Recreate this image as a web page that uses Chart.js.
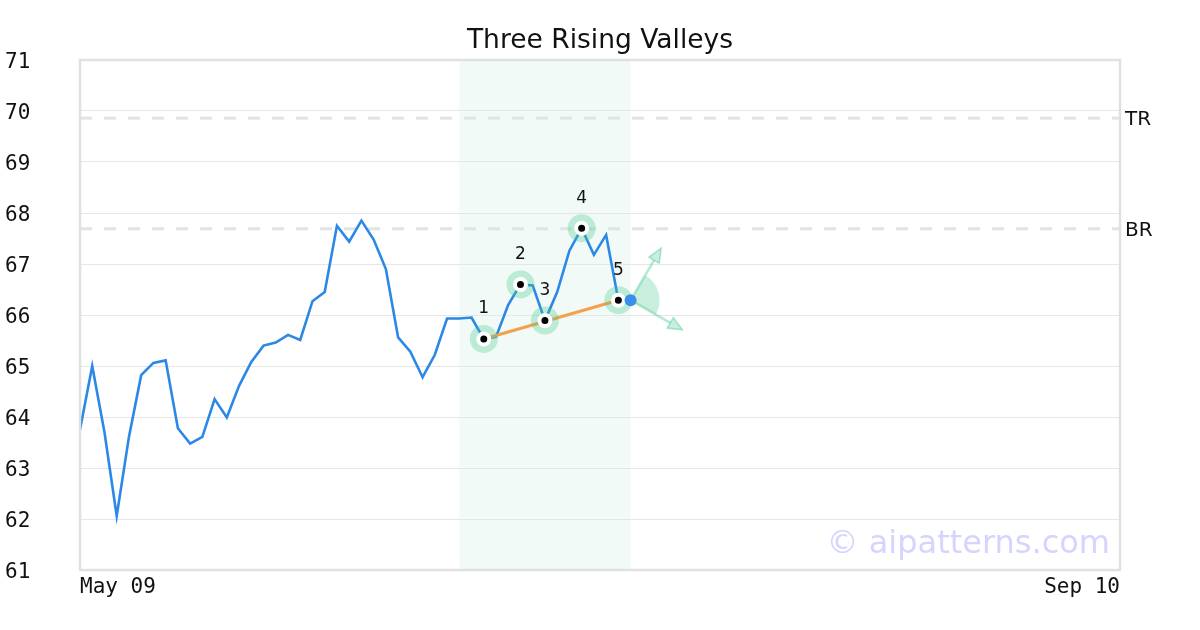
<!DOCTYPE html>
<html>
<head>
<meta charset="utf-8">
<script src="https://cdn.jsdelivr.net/npm/chart.js@4.4.1/dist/chart.umd.min.js"></script>
<style>
  html, body { margin: 0; background: #fff; }
  #wrap { width: 1200px; height: 630px; }
</style>
</head>
<body>
<div id="wrap"><canvas id="chart"></canvas></div>
<script>
// ---- data ----
const TITLE = 'Three Rising Valleys';
const X_TICK_LABELS = ['May 09', 'Sep 10'];
const X_LAST = 85;                       // last session slot on the axis

const closes = [
  63.75, 65.00, 63.70, 62.06, 63.61, 64.82, 65.06, 65.11, 63.78, 63.48,
  63.61, 64.35, 63.99, 64.61, 65.08, 65.40, 65.46, 65.61, 65.51, 66.27,
  66.45, 67.75, 67.44, 67.85, 67.48, 66.90, 65.56, 65.28, 64.78, 65.22,
  65.93, 65.93, 65.95, 65.53, 65.57, 66.20, 66.60, 66.58, 65.89, 66.45,
  67.26, 67.70, 67.18, 67.57, 66.29, 66.29,
];

const pivotIdx   = [33, 36, 38, 41, 44];
const pivotVals  = [65.53, 66.60, 65.89, 67.70, 66.29];
const pivotNames = ['1', '2', '3', '4', '5'];

const trendIdx  = [33, 44];
const trendVals = [65.53, 66.29];

const levelVals  = [69.86, 67.69];
const levelNames = ['TR', 'BR'];

const zoneIdx = [31, 45];

const lastIdx = [45];
const lastVal = [66.29];

// projection arrows: [x index, value] of each tip
const arrowUp   = [47.5, 67.31];
const arrowDown = [49.24, 65.71];

// ---- styles ----
const MONO  = '"DejaVu Sans Mono", monospace';
const SANS  = '"DejaVu Sans", sans-serif';
const GREEN = '72,199,142';

const toXY = (xs, ys) => xs.map((x, i) => ({ x, y: ys[i] }));

const zonePlugin = {
  id: 'zone',
  beforeDraw(chart) {
    const { ctx, chartArea: a, scales: { x } } = chart;
    const x0 = x.getPixelForValue(zoneIdx[0]);
    const x1 = x.getPixelForValue(zoneIdx[1]);
    ctx.save();
    ctx.fillStyle = 'rgba(72,187,140,0.08)';
    ctx.fillRect(x0, a.top, x1 - x0, a.bottom - a.top);

    // title, centred on the whole canvas
    ctx.fillStyle = '#111';
    ctx.font = '26.5px ' + SANS;
    ctx.textAlign = 'center';
    ctx.textBaseline = 'middle';
    ctx.fillText(TITLE, chart.width / 2, 41);
    ctx.restore();
  },
};

const levelsPlugin = {
  id: 'levels',
  beforeDatasetsDraw(chart) {
    const { ctx, chartArea: a, scales: { x, y } } = chart;
    ctx.save();
    ctx.strokeStyle = '#e3e3e3';
    ctx.lineWidth = 3;
    ctx.setLineDash([12, 12]);
    levelVals.forEach((v, i) => {
      const py = y.getPixelForValue(v);
      ctx.beginPath();
      ctx.moveTo(a.left, py);
      ctx.lineTo(a.right, py);
      ctx.stroke();
      ctx.fillStyle = '#111';
      ctx.font = '20px ' + SANS;
      ctx.textAlign = 'left';
      ctx.textBaseline = 'middle';
      ctx.fillText(levelNames[i], a.right + 5, py + 2);
    });
    ctx.setLineDash([]);

    // projection wedge + arrows from the last close
    const cx = x.getPixelForValue(lastIdx[0]);
    const cy = y.getPixelForValue(lastVal[0]);
    const tips = [arrowUp, arrowDown].map(t => [x.getPixelForValue(t[0]), y.getPixelForValue(t[1])]);
    const angs = tips.map(t => Math.atan2(t[1] - cy, t[0] - cx));

    ctx.fillStyle = `rgba(${GREEN},0.3)`;
    ctx.beginPath();
    ctx.moveTo(cx, cy);
    ctx.arc(cx, cy, 29, angs[0], angs[1]);
    ctx.closePath();
    ctx.fill();

    tips.forEach((t, i) => {
      const ux = Math.cos(angs[i]), uy = Math.sin(angs[i]);
      const bx = t[0] - ux * 14, by = t[1] - uy * 14;
      ctx.strokeStyle = `rgba(${GREEN},0.4)`;
      ctx.lineWidth = 2.5;
      ctx.beginPath();
      ctx.moveTo(cx, cy);
      ctx.lineTo(bx, by);
      ctx.stroke();
      ctx.beginPath();
      ctx.moveTo(t[0], t[1]);
      ctx.lineTo(bx - uy * 6, by + ux * 6);
      ctx.lineTo(bx + uy * 6, by - ux * 6);
      ctx.closePath();
      ctx.fillStyle = `rgba(${GREEN},0.3)`;
      ctx.fill();
      ctx.strokeStyle = `rgba(${GREEN},0.45)`;
      ctx.lineWidth = 1.5;
      ctx.stroke();
    });
    ctx.restore();
  },
};

const overlayPlugin = {
  id: 'overlay',
  afterDatasetsDraw(chart) {
    const { ctx, chartArea: a, scales: { x, y } } = chart;
    ctx.save();
    ctx.fillStyle = '#111';
    ctx.font = '17px ' + SANS;
    ctx.textAlign = 'center';
    ctx.textBaseline = 'middle';
    pivotIdx.forEach((p, i) => {
      ctx.fillText(pivotNames[i], x.getPixelForValue(p), y.getPixelForValue(pivotVals[i]) - 30);
    });

    ctx.strokeStyle = '#e0e0e0';
    ctx.lineWidth = 2.5;
    ctx.strokeRect(a.left, a.top, a.right - a.left, a.bottom - a.top);

    ctx.fillStyle = 'rgba(160,160,255,0.45)';
    ctx.font = '32px ' + SANS;
    ctx.textAlign = 'right';
    ctx.textBaseline = 'alphabetic';
    ctx.fillText('© aipatterns.com', a.right - 10, a.bottom - 17);
    ctx.restore();
  },
};

new Chart(document.getElementById('chart'), {
  type: 'scatter',
  data: {
    datasets: [
      {
        label: 'last',
        data: toXY(lastIdx, lastVal),
        pointRadius: 6,
        backgroundColor: '#3b8eea',
        borderWidth: 0,
        order: 0,
      },
      {
        label: 'pivots',
        data: toXY(pivotIdx, pivotVals),
        pointRadius: 5.5,
        backgroundColor: '#000',
        borderColor: '#fff',
        borderWidth: 4,
        order: 1,
      },
      {
        label: 'halo',
        data: toXY(pivotIdx, pivotVals),
        pointRadius: 14,
        backgroundColor: `rgba(${GREEN},0.32)`,
        borderWidth: 0,
        order: 2,
      },
      {
        label: 'trend',
        data: toXY(trendIdx, trendVals),
        showLine: true,
        borderColor: '#f5a04a',
        borderWidth: 3,
        pointRadius: 0,
        order: 3,
      },
      {
        label: 'close',
        data: closes.map((v, i) => ({ x: i, y: v })),
        showLine: true,
        borderColor: '#2b88e6',
        borderWidth: 2.6,
        pointRadius: 0,
        tension: 0,
        order: 4,
      },
    ],
  },
  options: {
    responsive: true,
    maintainAspectRatio: false,
    animation: false,
    layout: { padding: { left: 5, right: 80, top: 60, bottom: 0 } },
    plugins: {
      legend: { display: false },
      tooltip: { enabled: false },
      title: { display: false },
    },
    scales: {
      x: {
        type: 'linear',
        min: 0,
        max: X_LAST,
        grid: { display: false, drawTicks: false },
        border: { display: false },
        afterBuildTicks: s => { s.ticks = [{ value: 0 }, { value: X_LAST }]; },
        afterFit: s => { s.height = 60; },
        ticks: {
          align: 'inner',
          maxRotation: 0,
          padding: 5,
          color: '#111',
          font: { family: MONO, size: 21 },
          callback: v => (v === 0 ? X_TICK_LABELS[0] : X_TICK_LABELS[1]),
        },
      },
      y: {
        min: 61,
        max: 71,
        grid: { color: '#e6e6e6', lineWidth: 1, drawTicks: false },
        border: { display: false },
        afterFit: s => { s.width = 75; },
        ticks: {
          stepSize: 1,
          crossAlign: 'far',
          labelOffset: 2.5,
          color: '#111',
          font: { family: MONO, size: 21 },
        },
      },
    },
  },
  plugins: [zonePlugin, levelsPlugin, overlayPlugin],
});
</script>
</body>
</html>
